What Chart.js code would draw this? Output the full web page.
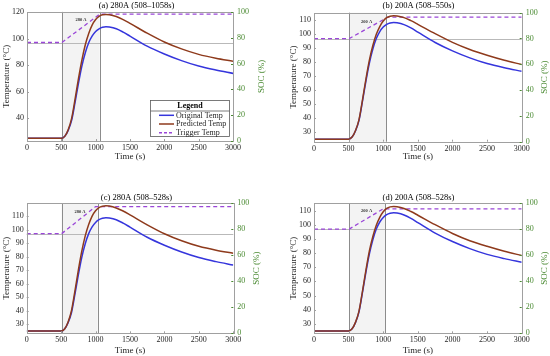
<!DOCTYPE html>
<html><head><meta charset="utf-8">
<script src="https://cdn.jsdelivr.net/npm/chart.js@4.4.1/dist/chart.umd.min.js"></script>
<style>
html,body{margin:0;padding:0;background:#fff;width:550px;height:356px;overflow:hidden;}
canvas{position:absolute;}
</style></head><body>
<canvas id="ca" width="273" height="162" style="left:0;top:0"></canvas>
<canvas id="cb" width="263" height="162" style="left:287px;top:0"></canvas>
<canvas id="cc" width="273" height="163" style="left:0;top:193px"></canvas>
<canvas id="cd" width="263" height="163" style="left:287px;top:193px"></canvas>
<script>
// ---------- data ----------
const TIME = [0,500,550,600,650,700,750,800,850,900,950,1000,1050,1100,1150,1200,1300,1400,1500,1750,2000,2250,2500,2750,3000];

const ORIG_A = [25,25,26.5,31,38.5,52,66.5,79.5,89.5,97,102,105.3,107.3,108.4,108.8,108.6,107.3,104.8,101.8,94.3,88.4,83.4,79.3,76.3,73.8];
const PRED_A = [25,25,26.5,31.5,40,54.5,70,84,95.5,104,110.3,114.3,116.7,117.8,118.1,117.9,116.5,114.2,111.4,104,97.4,92.2,88.1,85.2,83];

const ORIG_B = [25,25,26.5,31,38.5,52,66.5,79.5,89.5,97,102,105.2,107.2,108.2,108.5,108.3,107,104.6,101.6,94.2,88.2,83.2,79.1,76.1,73.6];
const PRED_B = [25,25,26.5,31.2,39,53,68,81.5,92,100,105.6,109.5,111.9,113,113.4,113.2,112,109.8,107.2,100.5,94.3,89.2,85.1,81.5,78.4];

const ORIG_C = [25,25,26.5,31,38.5,52,66.5,79.5,89.5,97,102,105.3,107.3,108.4,108.8,108.6,107.3,104.8,101.8,94.3,88.4,83.4,79.3,76.3,73.8];
const PRED_C = [25,25,26.5,31.5,40,54.5,70,84,95.3,103.7,110,113.9,116.3,117.3,117.6,117.4,116,113.7,110.9,103.5,96.9,91.7,87.6,84.7,82.5];

const ORIG_D = [25,25,26.5,31,38.5,52,66.5,79.5,89.5,97,102,105.2,107.2,108.2,108.5,108.3,107,104.6,101.6,94.2,88.2,83.2,79.1,76.1,73.6];
const PRED_D = [25,25,26.5,31.2,39,53,68,81.5,91.8,99.7,105.3,109.2,111.6,112.7,113,112.8,111.6,109.4,106.8,100.1,93.9,88.8,84.8,81.3,78.3];

const TRIG_T_A = [0,508,1060,3000];  const TRIG_A = [97,97,118.3,118.3];
const TRIG_T_B = [0,508,1070,3000];  const TRIG_B = [97,97,112.4,112.4];
const TRIG_T_C = [0,508,1000,3000];  const TRIG_C = [97,97,117,117];
const TRIG_T_D = [0,508,1000,3000];  const TRIG_D = [97,97,111.3,111.3];

const X_TICKS = [0,500,1000,1500,2000,2500,3000];
const TEMP_TICKS_A = [40,60,80,100,120];
const TEMP_TICKS_BCD = [30,40,50,60,70,80,90,100,110];
const SOC_TICKS = [0,20,40,60,80,100];
const SERIES_NAMES = ['Original Temp','Predicted Temp','Trigger Temp'];
const TITLES = ['(a) 280A (508–1058s)','(b) 200A (508–550s)','(c) 280A (508–528s)','(d) 200A (508–528s)'];
const CURRENT_LABELS = ['280 A','200 A','280 A','200 A'];

// ---------- style ----------
const FONT = "'Liberation Serif','Times New Roman',serif";
const TEXT = '#262626';
const AXIS_GRAY = '#a0a0a0';
const GREEN = '#4a8a32';
const BLUE = '#3535dc';
const BROWN = '#8e3a1c';
const PURPLE = '#9a46d8';

function pts(t, v){ return t.map((x,i)=>({x:x, y:v[i]})); }
const plain = v => String(v);

const PANELS = [
 {id:'ca', orig:ORIG_A, pred:PRED_A, trigT:TRIG_T_A, trig:TRIG_A, yMin:23, yMax:120, yTicks:TEMP_TICKS_A,
  shade:[508,1058], ref:97, annAt:[786,113.8], L:27, R:40, B:21, tp:{top:0.5,bottom:1.2}, socX:28.7, legend:true},
 {id:'cb', orig:ORIG_B, pred:PRED_B, trigT:TRIG_T_B, trig:TRIG_B, yMin:23.2, yMax:115.5, yTicks:TEMP_TICKS_BCD,
  shade:[508,1040], ref:97, annAt:[761,108.8], L:27, R:28.3, B:20.3, tp:{top:1,bottom:1.5}, socX:23.3, legend:false},
 {id:'cc', orig:ORIG_C, pred:PRED_C, trigT:TRIG_T_C, trig:TRIG_C, yMin:23.3, yMax:119.5, yTicks:TEMP_TICKS_BCD,
  shade:[508,1030], ref:97, annAt:[774,113.4], L:26.7, R:39.7, B:22.7, tp:{top:0,bottom:0}, socX:23.4, legend:false},
 {id:'cd', orig:ORIG_D, pred:PRED_D, trigT:TRIG_T_D, trig:TRIG_D, yMin:23.3, yMax:115.3, yTicks:TEMP_TICKS_BCD,
  shade:[508,1028], ref:97, annAt:[761,109.6], L:27, R:28.3, B:22.7, tp:{top:0,bottom:0}, socX:22.6, legend:false}
];

PANELS.forEach((p, idx) => {
  const decor = {
    id: 'decor' + idx,
    beforeDatasetsDraw(chart) {
      const {ctx, chartArea:a, scales:{x, y}} = chart;
      ctx.save();
      const x0 = x.getPixelForValue(p.shade[0]), x1 = x.getPixelForValue(p.shade[1]);
      ctx.fillStyle = '#f3f3f3';
      ctx.fillRect(x0, a.top, x1 - x0, a.bottom - a.top);
      ctx.lineWidth = 1;
      ctx.strokeStyle = '#b9b9b9';
      const yr = Math.round(y.getPixelForValue(p.ref)) + 0.5;
      ctx.beginPath(); ctx.moveTo(a.left, yr); ctx.lineTo(a.right, yr); ctx.stroke();
      ctx.strokeStyle = '#8c8c8c';
      p.shade.forEach(v => {
        const px = Math.round(x.getPixelForValue(v)) + 0.5;
        ctx.beginPath(); ctx.moveTo(px, a.top); ctx.lineTo(px, a.bottom); ctx.stroke();
      });
      ctx.restore();
    },
    afterDraw(chart) {
      const {ctx, chartArea:a, scales:{x, y, y2}} = chart;
      ctx.save();
      // axes box
      ctx.strokeStyle = AXIS_GRAY; ctx.lineWidth = 1;
      ctx.strokeRect(Math.round(a.left)+0.5, Math.round(a.top)+0.5, Math.round(a.right-a.left), Math.round(a.bottom-a.top));
      // inward tick marks
      ctx.beginPath();
      X_TICKS.forEach(v => { const px = Math.round(x.getPixelForValue(v))+0.5; ctx.moveTo(px, a.bottom); ctx.lineTo(px, a.bottom-2); });
      p.yTicks.forEach(v => { const py = Math.round(y.getPixelForValue(v))+0.5; ctx.moveTo(a.left, py); ctx.lineTo(a.left+2, py); });
      ctx.stroke();
      ctx.strokeStyle = GREEN; ctx.beginPath();
      SOC_TICKS.forEach(v => { const py = Math.round(y2.getPixelForValue(v))+0.5; ctx.moveTo(a.right, py); ctx.lineTo(a.right-2, py); });
      ctx.stroke();
      // current annotation
      ctx.fillStyle = '#333';
      ctx.font = "bold 4.5px " + FONT;
      ctx.textAlign = 'center'; ctx.textBaseline = 'middle';
      ctx.fillText(CURRENT_LABELS[idx], x.getPixelForValue(p.annAt[0]), y.getPixelForValue(p.annAt[1]));
      // right axis title (reads bottom to top)
      ctx.fillStyle = GREEN;
      ctx.font = "9px " + FONT;
      ctx.translate(a.right + p.socX, (a.top + a.bottom) / 2);
      ctx.rotate(-Math.PI / 2);
      ctx.fillText('SOC (%)', 0, 0);
      ctx.setTransform(1,0,0,1,0,0);
      // legend
      if (p.legend) {
        const bx = 150.5, by = 100.5, bw = 79, bh = 36;
        ctx.fillStyle = '#fff'; ctx.fillRect(bx, by, bw, bh);
        ctx.strokeStyle = '#5a5a5a'; ctx.lineWidth = 0.8; ctx.strokeRect(bx, by, bw, bh);
        ctx.beginPath(); ctx.moveTo(bx, by + 10.5); ctx.lineTo(bx + bw, by + 10.5); ctx.stroke();
        ctx.fillStyle = '#000'; ctx.font = "bold 8px " + FONT; ctx.textAlign = 'center'; ctx.textBaseline = 'middle';
        ctx.fillText('Legend', bx + bw/2, by + 5.5);
        const cols = [BLUE, BROWN, PURPLE];
        const rows = [115.3, 124, 132.7];
        ctx.font = "8px " + FONT; ctx.textAlign = 'left';
        rows.forEach((ry, i) => {
          ctx.strokeStyle = cols[i]; ctx.lineWidth = 1.5;
          ctx.setLineDash(i === 2 ? [3, 2] : []);
          ctx.beginPath(); ctx.moveTo(159, ry); ctx.lineTo(174, ry); ctx.stroke();
          ctx.setLineDash([]);
          ctx.fillStyle = TEXT;
          ctx.fillText(SERIES_NAMES[i], 176, ry + 0.3);
        });
      }
      ctx.restore();
    }
  };

  new Chart(document.getElementById(p.id), {
    type: 'line',
    data: {
      datasets: [
        {label: SERIES_NAMES[1], data: pts(TIME, p.pred), borderColor: BROWN, borderWidth: 1.5, pointRadius: 0, cubicInterpolationMode: 'monotone', yAxisID: 'y'},
        {label: SERIES_NAMES[0], data: pts(TIME, p.orig), borderColor: BLUE, borderWidth: 1.5, pointRadius: 0, cubicInterpolationMode: 'monotone', yAxisID: 'y'},
        {label: SERIES_NAMES[2], data: pts(p.trigT, p.trig), borderColor: PURPLE, borderWidth: 1.3, borderDash: [4, 3], pointRadius: 0, tension: 0, yAxisID: 'y'}
      ]
    },
    options: {
      responsive: false, animation: false, devicePixelRatio: 1,
      layout: {padding: 0},
      plugins: {
        legend: {display: false}, tooltip: {enabled: false},
        title: {display: true, text: TITLES[idx], color: '#000', font: {family: FONT, size: 8.5, weight: 'normal'}, padding: p.tp}
      },
      scales: {
        x: {
          type: 'linear', min: 0, max: 3000,
          grid: {display: false, drawTicks: false}, border: {display: false},
          ticks: {padding: 2, color: TEXT, font: {family: FONT, size: 8}, maxRotation: 0, callback: plain},
          afterBuildTicks: s => { s.ticks = X_TICKS.map(v => ({value: v})); },
          afterFit: s => { s.height = p.B; },
          title: {display: true, text: 'Time (s)', color: TEXT, font: {family: FONT, size: 9}, padding: {top: 0, bottom: 0}}
        },
        y: {
          type: 'linear', position: 'left', min: p.yMin, max: p.yMax,
          grid: {display: false, drawTicks: false}, border: {display: false},
          ticks: {padding: 3, color: TEXT, font: {family: FONT, size: 8}, callback: plain},
          afterBuildTicks: s => { s.ticks = p.yTicks.map(v => ({value: v})); },
          afterFit: s => { s.width = p.L; },
          title: {display: true, text: 'Temperature (°C)', color: TEXT, font: {family: FONT, size: 9}, padding: {top: 1, bottom: 0}}
        },
        y2: {
          type: 'linear', position: 'right', min: 0, max: 100,
          grid: {display: false, drawTicks: false}, border: {display: false},
          ticks: {padding: 4, color: GREEN, font: {family: FONT, size: 8}, callback: plain},
          afterBuildTicks: s => { s.ticks = SOC_TICKS.map(v => ({value: v})); },
          afterFit: s => { s.width = p.R; }
        }
      }
    },
    plugins: [decor]
  });
});
</script>
</body></html>
